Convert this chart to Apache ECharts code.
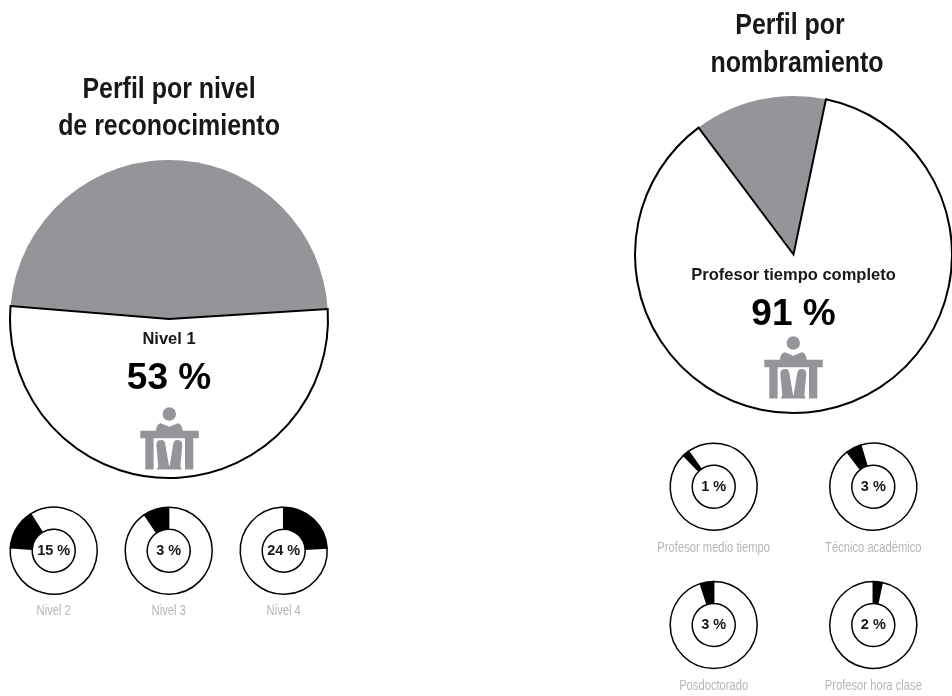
<!DOCTYPE html>
<html><head><meta charset="utf-8">
<style>html,body{margin:0;padding:0;background:#fff}#c{width:952px;height:696px}</style>
<script src="https://cdn.jsdelivr.net/npm/echarts@6/dist/echarts.min.js"></script>
</head><body><div id="c"></div>
<script>
// Main pies: share of the circle as drawn [grey, white], with their printed labels
const mainNames = ['Nivel 1', 'Profesor tiempo completo'];
const mainLabels = ['53 %', '91 %'];
const mainWhite = [52.3, 86.5];
const mainGrey = [47.7, 13.5];
const mainStart = [175.3, 126.8];
// Small donuts: share of the ring as drawn, with printed labels
const smallNames = ['Nivel 2', 'Nivel 3', 'Nivel 4', 'Profesor medio tiempo', 'Técnico académico', 'Posdoctorado', 'Profesor hora clase'];
const smallLabels = ['15 %', '3 %', '24 %', '1 %', '3 %', '3 %', '2 %'];
const smallBlack = [15, 9.4, 24, 2.4, 5.6, 5, 3.3];
const smallStart = [176, 124, 90, 134, 127, 108, 90];
const mainTitles = [['Perfil por nivel', 'de reconocimiento'], ['Perfil por', 'nombramiento']];

const INK = '#1a1718', GREY = '#939598', CAP = '#b4b6b9';
const BOLD = '"Liberation Sans",Arial,sans-serif';

const mainPos = [[169, 319, 159], [793.5, 254.5, 158.5]];
const mainTitleX = [[169, 169], [790, 797]];
const mainTitleY = [[89.5, 127], [26, 64]];
const mainNameY = [339, 275];
const mainPctY = [379, 315];
const smallPos = [[53.7, 550.7], [168.7, 550.7], [283.7, 550.7], [713.7, 486.7], [873.3, 486.7], [713.7, 625], [873.3, 625]];
const capY = [611, 611, 611, 548, 548, 686, 686];
const iconPos = [[169.3, 400], [793.3, 329]];

const series = [], titles = [], graphic = [];
function t(text, x, y, size, color) {
  titles.push({ text, left: x, top: y, padding: 0, textAlign: 'center', textVerticalAlign: 'middle',
    textStyle: { fontFamily: BOLD, fontSize: size, fontWeight: 'bold', color } });
}
function squeezed(text, x, y, size, weight, color, sx) {
  graphic.push({ type: 'text', x, y, scaleX: sx, silent: true, z: 10,
    style: { text, fontFamily: BOLD, fontSize: size, fontWeight: weight, fill: color, align: 'center', verticalAlign: 'middle' } });
}
mainGrey.forEach((g, i) => {
  const [cx, cy, r] = mainPos[i];
  series.push({ type: 'pie', silent: true, animation: false, center: [cx, cy], radius: [0, r], startAngle: mainStart[i],
    label: { show: false }, labelLine: { show: false }, emphasis: { disabled: true },
    data: [
      { value: g, name: 'otros', itemStyle: { color: GREY, borderWidth: 0 } },
      { value: mainWhite[i], name: mainNames[i], itemStyle: { color: '#fff', borderColor: '#000', borderWidth: 2, borderJoin: 'miter' } }
    ] });
  mainTitles[i].forEach((line, k) => squeezed(line, mainTitleX[i][k], mainTitleY[i][k], 29, 'bold', INK, 0.86));
  t(mainNames[i], cx, mainNameY[i], 16.5, INK);
  t(mainLabels[i], cx, mainPctY[i], 37, '#000');
});
smallBlack.forEach((b, i) => {
  const [cx, cy] = smallPos[i];
  const style = { borderColor: '#000', borderWidth: 1.5 };
  series.push({ type: 'pie', silent: true, animation: false, center: [cx, cy], radius: [21.5, 43.5], startAngle: smallStart[i],
    label: { show: false }, labelLine: { show: false }, emphasis: { disabled: true },
    data: [
      { value: b, name: smallNames[i], itemStyle: { color: '#000', ...style } },
      { value: 100 - b, name: 'resto', itemStyle: { color: '#fff', ...style } }
    ] });
  t(smallLabels[i], cx, cy, 14.5, INK);
  squeezed(smallNames[i], cx, capY[i], 14, 'normal', CAP, 0.8);
});

const iconPath = 'M-29,30.7 L-13.5,30.7 C-13,26.5 -11,23.5 -8.5,23.3 L0,26.7 L8.5,23.3 C11,23.5 13,26.5 13.5,30.7 L29.5,30.7 L29.5,38.3 L24,38.3 L24,69.5 L15.7,69.5 L15.7,38.3 L-15.7,38.3 L-15.7,69.5 L-24,69.5 L-24,38.3 L-29,38.3 Z ' +
  'M-13,45 Q-13,40 -8,40 Q-4.5,40 -4,44 L-0.3,66 L0.3,66 L4,44 Q4.5,40 8,40 Q13,40 13,45 L11,66 L12.5,69.5 L-12.5,69.5 L-11,66 Z';
echarts.graphic.registerShape('deskIcon', echarts.graphic.extendPath(iconPath, {}));
iconPos.forEach(p => graphic.push({ type: 'group', x: p[0], y: p[1], silent: true, children: [
  { type: 'circle', z: 10, shape: { cx: 0, cy: 14, r: 6.7 }, style: { fill: GREY } },
  { type: 'deskIcon', z: 10, style: { fill: GREY } }
] }));

const chart = echarts.init(document.getElementById('c'), null, { renderer: 'canvas' });
chart.setOption({ animation: false, backgroundColor: '#fff', title: titles, series, graphic });
</script></body></html>
